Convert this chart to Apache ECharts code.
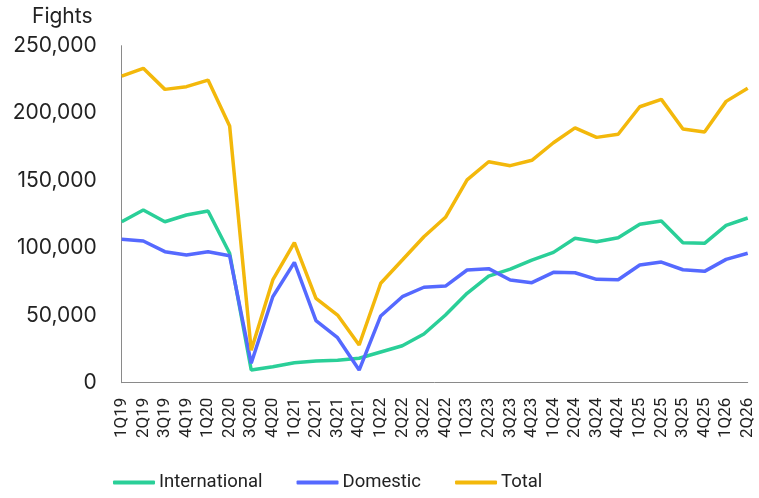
<!DOCTYPE html>
<html>
<head>
<meta charset="utf-8">
<style>
  html, body { margin: 0; padding: 0; background: #fff; }
  #chart { width: 759px; height: 498px; }
</style>
<script src="https://cdn.jsdelivr.net/npm/echarts@6/dist/echarts.min.js"></script>
</head>
<body>
<div id="chart"></div>
<script>
// quarters shown on the x axis
var quarters = [
  "1Q19", "2Q19", "3Q19", "4Q19", "1Q20", "2Q20", "3Q20", "4Q20",
  "1Q21", "2Q21", "3Q21", "4Q21", "1Q22", "2Q22", "3Q22", "4Q22",
  "1Q23", "2Q23", "3Q23", "4Q23", "1Q24", "2Q24", "3Q24", "4Q24",
  "1Q25", "2Q25", "3Q25", "4Q25", "1Q26", "2Q26"
];

// flights per quarter
var international = [
  119400, 128100, 119400, 124400, 127400, 96000, 9400, 11900,
  14800, 16100, 16600, 18100, 22800, 27400, 36100, 50200,
  66300, 79100, 84300, 91000, 96700, 107100, 104600, 107600,
  117500, 120000, 103900, 103400, 116700, 122200
];
var domestic = [
  106400, 105100, 97200, 94700, 97200, 94200, 14400, 63800,
  89300, 46000, 33400, 9400, 49500, 63800, 70800, 71700,
  83600, 84600, 76200, 74200, 81900, 81600, 76700, 76400,
  87300, 89500, 83800, 82600, 91500, 96000
];
var total = [
  227500, 233200, 217600, 219600, 224500, 190400, 24000, 76200,
  103900, 62600, 50200, 28000, 73800, 91000, 108300, 122700,
  150400, 163900, 161000, 165000, 178000, 189000, 182000, 184300,
  204700, 210200, 188200, 186000, 208700, 218400
];

var colors = {
  international: "#2ACF98",
  domestic: "#5569FF",
  total: "#F3B80B"
};

var chart = echarts.init(document.getElementById("chart"));

function lineSeries(name, data, color) {
  return {
    name: name,
    type: "line",
    data: data,
    symbol: "none",
    smooth: false,
    lineStyle: { width: 3.5, color: color },
    itemStyle: { color: color }
  };
}

chart.setOption({
  animation: false,
  textStyle: { fontFamily: "Inter, 'Noto Sans', sans-serif", color: "#222" },
  title: {
    text: "Fights",
    left: 27,
    top: 1,
    textStyle: { fontFamily: "Inter", fontSize: 21, fontWeight: "normal", color: "#222" }
  },
  grid: {
    left: 121.7,
    right: 11.3,
    top: 45.7,
    bottom: 115.3,
    containLabel: false
  },
  legend: {
    left: 113,
    top: 473,
    padding: 0,
    icon: "roundRect",
    itemWidth: 42,
    itemHeight: 4,
    itemGap: 34,
    textStyle: {
      fontFamily: "Roboto, sans-serif",
      fontSize: 18.5,
      color: "#222",
      padding: [0, 0, 0, -1]
    },
    data: ["International", "Domestic", "Total"]
  },
  xAxis: {
    type: "category",
    data: quarters,
    boundaryGap: false,
    axisLine: { show: true, lineStyle: { color: "#8a8a8a", width: 1 } },
    axisTick: { show: false },
    axisLabel: {
      rotate: 90,
      interval: 0,
      margin: 15,
      fontFamily: "Roboto, sans-serif",
      fontSize: 17,
      color: "#222"
    }
  },
  yAxis: {
    type: "value",
    min: 0,
    max: 250000,
    interval: 50000,
    axisLine: { show: true, lineStyle: { color: "#8a8a8a", width: 1 } },
    axisTick: { show: false },
    splitLine: { show: false },
    axisLabel: {
      margin: 25,
      fontFamily: "Inter",
      fontSize: 21,
      color: "#222",
      formatter: function (v) { return v.toLocaleString("en-US"); }
    }
  },
  series: [
    lineSeries("International", international, colors.international),
    lineSeries("Domestic", domestic, colors.domestic),
    lineSeries("Total", total, colors.total)
  ]
});
</script>
</body>
</html>
